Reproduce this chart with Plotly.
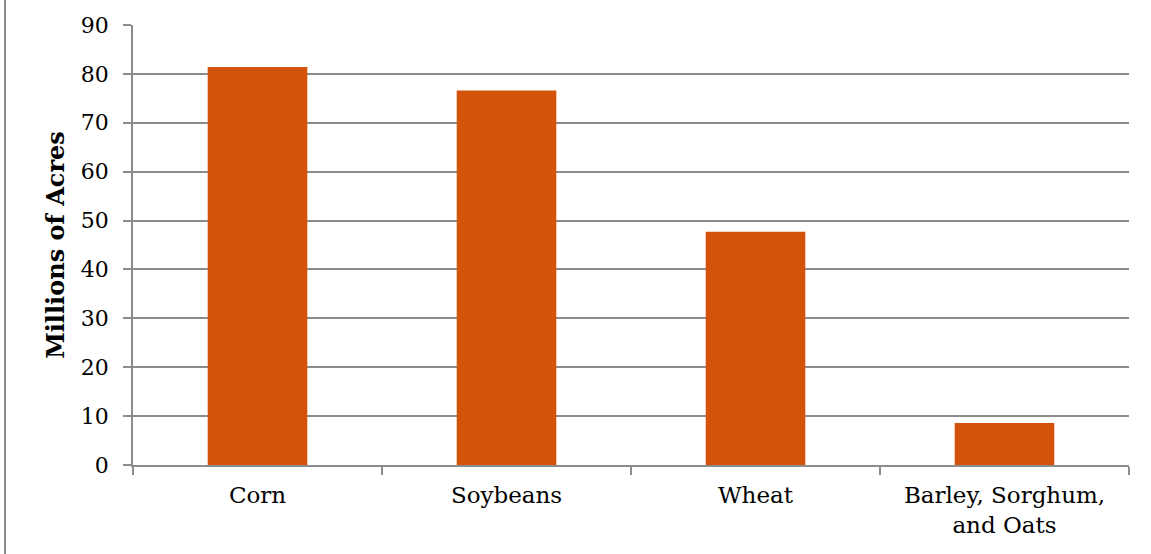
import plotly.graph_objects as go

categories = ["Corn", "Soybeans", "Wheat", "Barley, Sorghum,<br>and Oats"]
acres_millions = [81.4, 76.6, 47.7, 8.6]
y_ticks = [0, 10, 20, 30, 40, 50, 60, 70, 80, 90]

grid = "#8c8c8c"
serif = "DejaVu Serif"
fig = go.Figure(
    go.Bar(x=categories, y=acres_millions, marker=dict(color="#D4530A", line=dict(width=0)))
)
fig.update_layout(
    width=1151, height=554,
    margin=dict(l=133, r=22, t=25, b=89),
    paper_bgcolor="white", plot_bgcolor="white",
    bargap=0.6, showlegend=False,
    font=dict(family=serif, color="black", size=18),
    shapes=[dict(type="line", xref="paper", yref="paper",
                 x0=-128/996, x1=-128/996, y0=-89/440, y1=25/440 + 1,
                 line=dict(color="#8c8c8c", width=2))],
)
fig.update_yaxes(
    range=[0, 90], tickvals=y_ticks, showgrid=True, gridcolor=grid, gridwidth=1.5,
    showline=True, linecolor=grid, linewidth=1.5, ticks="outside", ticklen=8,
    tickcolor=grid, tickwidth=1.5, zeroline=False, ticklabelstandoff=10,
    automargin=False,
    tickfont=dict(family=serif, size=22, color="black"),
    title=dict(text="<b>Millions of Acres</b>", font=dict(family=serif, size=24, color="black"), standoff=9),
)
fig.update_xaxes(
    showline=True, linecolor=grid, linewidth=1.5, ticks="outside", ticklen=8,
    tickcolor=grid, tickwidth=1.5, tickson="boundaries", ticklabelstandoff=9,
    automargin=False,
    tickfont=dict(family=serif, size=23, color="black"),
)
fig.write_html("out.html")
